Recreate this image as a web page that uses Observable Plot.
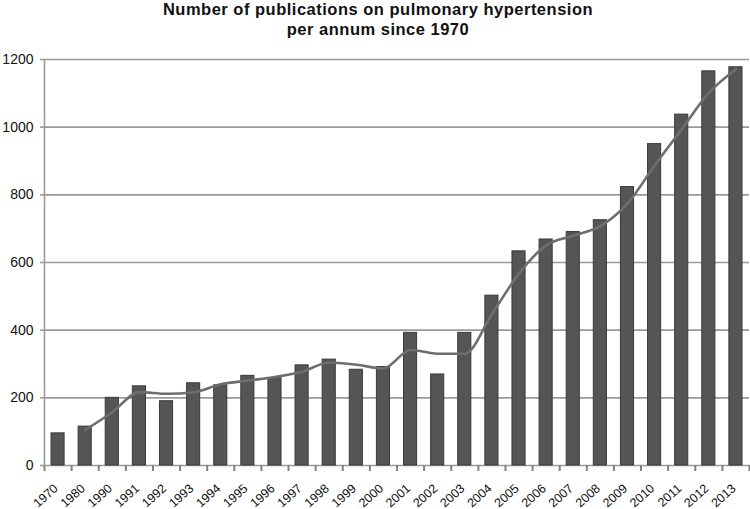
<!DOCTYPE html>
<html>
<head>
<meta charset="utf-8">
<script src="https://cdn.jsdelivr.net/npm/d3@7"></script>
<script src="https://cdn.jsdelivr.net/npm/@observablehq/plot@0.6"></script>
<style>
  html, body { margin: 0; padding: 0; background: #fff; }
  #title { width: 750px; height: 46px; font-family: "Liberation Sans", Arial, sans-serif; font-weight: bold; font-size: 16.5px; letter-spacing: 0.5px; line-height: 20px; text-align: center; color: #111; box-sizing: border-box; }
  #title div { position: relative; left: 3px; top: -1px; }
</style>
</head>
<body>
<div id="title"><div>Number of publications on pulmonary hypertension</div><div>per annum since 1970</div></div>
<div id="chart"></div>
<script>
const years = ["1970","1980","1990","1991","1992","1993","1994","1995","1996","1997","1998","1999","2000","2001","2002","2003","2004","2005","2006","2007","2008","2009","2010","2011","2012","2013"];
const publications = [95,115,200,234,190,243,237,265,258,296,313,283,291,392,269,392,502,633,668,690,725,823,950,1037,1165,1177];
const yTicks = [0,200,400,600,800,1000,1200];

const data = years.map((year, i) => ({year, count: publications[i], i}));
const boundaries = d3.range(years.length + 1);
const centers = years.map((_, i) => i + 0.5);

const W = 750, H = 463;
const mL = 44, mR = 1, mT = 13, mB = 44;
const tickLen = 6 * 1200 / (H - mT - mB);

const chart = Plot.plot({
  width: W,
  height: H,
  marginLeft: mL,
  marginRight: mR,
  marginTop: mT,
  marginBottom: mB,
  style: {fontFamily: "'Liberation Sans', Arial, sans-serif", color: "#111", background: "#fff", overflow: "visible"},
  x: {domain: [0, years.length], label: null},
  y: {domain: [0, 1200], label: null},
  marks: [
    Plot.ruleY(yTicks, {stroke: "#9a9a9a", strokeWidth: 1.6}),
    Plot.ruleX(boundaries, {x: d => d, y1: 0, y2: -tickLen, stroke: "#808080", strokeWidth: 2}),
    Plot.frame({anchor: "left", stroke: "#9a9a9a", strokeWidth: 1.6}),
    Plot.rectY(data, {x1: "i", x2: d => d.i + 1, y: "count", fill: "#555555", stroke: "#3a3a3a", strokeWidth: 1, insetLeft: 7, insetRight: 7}),
    Plot.lineY(data, Plot.windowY({k: 2, anchor: "end", strict: true, reduce: "mean"}, {x: d => d.i + 0.5, y: "count", stroke: "#6e6e6e", strokeWidth: 2.6, curve: "monotone-x"})),
    Plot.axisY({ticks: yTicks, tickFormat: d => String(d), tickSize: 4, stroke: "#9a9a9a", strokeWidth: 1.6, strokeOpacity: 1, tickPadding: 7, fontSize: 14, fill: "#111"}),
    Plot.axisX(centers, {tickSize: 0, tickFormat: d => years[Math.floor(d)], tickRotate: -42, tickPadding: 16, fontSize: 12.5, fill: "#111", dx: -2, dy: 5})
  ]
});
document.getElementById("chart").appendChild(chart);
</script>
</body>
</html>
